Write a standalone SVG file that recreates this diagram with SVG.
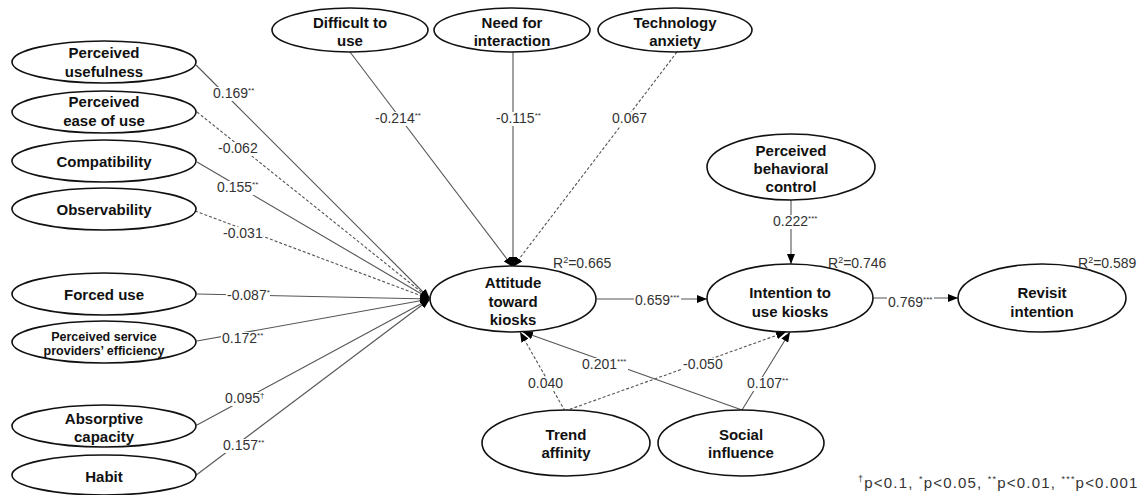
<svg xmlns="http://www.w3.org/2000/svg" width="1146" height="495" viewBox="0 0 1146 495">
<style>
.n ellipse{fill:#fff;stroke:#111;stroke-width:1.6}
.n text{font-family:"Liberation Sans",Arial,sans-serif;font-weight:bold;font-size:15px;fill:#111;text-anchor:middle}
.n text.sm{font-size:12.5px}
.c line{stroke:#555;stroke-width:1.1;fill:none}
.c line.d{stroke-dasharray:3,2}
.lb rect{fill:#fff}
.lb text,.r2{font-family:"Liberation Sans",Arial,sans-serif;font-size:14px;fill:#333}
.lg{font-family:"Liberation Sans",Arial,sans-serif;font-size:15px;fill:#333;letter-spacing:1.2px}
.s{font-size:8px}
.lg .s{font-size:9px}
</style>
<defs>
<marker id="a" markerWidth="10" markerHeight="8" refX="10" refY="4" orient="auto" markerUnits="userSpaceOnUse"><path d="M0,0 L10,4 L0,8 z" fill="#000"/></marker>
</defs>
<rect width="1146" height="495" fill="#fff"/>
<g id="connectors" class="c">
<line x1="196" y1="65" x2="430" y2="299" marker-end="url(#a)"/>
<line class="d" x1="197" y1="112" x2="430" y2="299" marker-end="url(#a)"/>
<line x1="197" y1="162" x2="430" y2="299" marker-end="url(#a)"/>
<line class="d" x1="195" y1="211" x2="430" y2="299" marker-end="url(#a)"/>
<line x1="197" y1="294" x2="430" y2="299" marker-end="url(#a)"/>
<line x1="197" y1="341" x2="430" y2="299" marker-end="url(#a)"/>
<line x1="197" y1="425" x2="430" y2="299" marker-end="url(#a)"/>
<line x1="195" y1="476" x2="430" y2="299" marker-end="url(#a)"/>
<line x1="350" y1="52" x2="513" y2="267" marker-end="url(#a)"/>
<line x1="513" y1="52" x2="513" y2="267" marker-end="url(#a)"/>
<line class="d" x1="677" y1="52" x2="513" y2="267" marker-end="url(#a)"/>
<line x1="597" y1="299" x2="707" y2="299" marker-end="url(#a)"/>
<line x1="873" y1="298" x2="958" y2="298" marker-end="url(#a)"/>
<line x1="791" y1="200" x2="791" y2="264" marker-end="url(#a)"/>
<line class="d" x1="565" y1="411" x2="520" y2="332" marker-end="url(#a)"/>
<line class="d" x1="565" y1="411" x2="786" y2="332" marker-end="url(#a)"/>
<line x1="742" y1="410" x2="523" y2="332" marker-end="url(#a)"/>
<line x1="742" y1="410" x2="790" y2="332" marker-end="url(#a)"/>
<g class="lb">
<rect x="212" y="87" width="43" height="14"/><text x="213" y="98">0.169<tspan class="s" dy="-5">**</tspan></text>
<rect x="217" y="142" width="41" height="14"/><text x="218" y="153">-0.062</text>
<rect x="216" y="181" width="43" height="14"/><text x="217" y="192">0.155<tspan class="s" dy="-5">**</tspan></text>
<rect x="222" y="227" width="41" height="14"/><text x="223" y="238">-0.031</text>
<rect x="226" y="289" width="44" height="14"/><text x="227" y="300">-0.087<tspan class="s" dy="-5">*</tspan></text>
<rect x="221" y="332" width="43" height="14"/><text x="222" y="343">0.172<tspan class="s" dy="-5">**</tspan></text>
<rect x="224" y="392" width="41" height="14"/><text x="225" y="403">0.095<tspan class="s" dy="-5">†</tspan></text>
<rect x="222" y="439" width="43" height="14"/><text x="223" y="450">0.157<tspan class="s" dy="-5">**</tspan></text>
<rect x="374" y="112" width="48" height="14"/><text x="375" y="123">-0.214<tspan class="s" dy="-5">**</tspan></text>
<rect x="495" y="112" width="48" height="14"/><text x="496" y="123">-0.115<tspan class="s" dy="-5">**</tspan></text>
<rect x="611" y="112" width="37" height="14"/><text x="612" y="123">0.067</text>
<rect x="634" y="294" width="47" height="14"/><text x="635" y="305">0.659<tspan class="s" dy="-5">***</tspan></text>
<rect x="887" y="296" width="47" height="14"/><text x="888" y="307">0.769<tspan class="s" dy="-5">***</tspan></text>
<rect x="772" y="215" width="47" height="14"/><text x="773" y="226">0.222<tspan class="s" dy="-5">***</tspan></text>
<rect x="527" y="377" width="37" height="14"/><text x="528" y="388">0.040</text>
<rect x="682" y="358" width="41" height="14"/><text x="683" y="369">-0.050</text>
<rect x="581" y="358" width="47" height="14"/><text x="582" y="369">0.201<tspan class="s" dy="-5">***</tspan></text>
<rect x="746" y="377" width="43" height="14"/><text x="747" y="388">0.107<tspan class="s" dy="-5">**</tspan></text>
</g>
</g>
<g id="n-pu" class="n"><ellipse cx="104" cy="62" rx="92" ry="21"/><text x="104" y="58">Perceived</text><text x="104" y="77">usefulness</text></g>
<g id="n-peou" class="n"><ellipse cx="104" cy="112" rx="92" ry="21"/><text x="104" y="107">Perceived</text><text x="104" y="126">ease of use</text></g>
<g id="n-comp" class="n"><ellipse cx="104" cy="161" rx="92" ry="21"/><text x="104" y="167">Compatibility</text></g>
<g id="n-obs" class="n"><ellipse cx="104" cy="209" rx="92" ry="21"/><text x="104" y="215">Observability</text></g>
<g id="n-forced" class="n"><ellipse cx="104" cy="294" rx="92" ry="21"/><text x="104" y="300">Forced use</text></g>
<g id="n-pspe" class="n"><ellipse cx="104" cy="342" rx="92" ry="21"/><text class="sm" x="104" y="341">Perceived service</text><text class="sm" x="104" y="355">providers’ efficiency</text></g>
<g id="n-abs" class="n"><ellipse cx="104" cy="426" rx="92" ry="21"/><text x="104" y="424">Absorptive</text><text x="104" y="442">capacity</text></g>
<g id="n-habit" class="n"><ellipse cx="104" cy="475" rx="92" ry="20"/><text x="104" y="482">Habit</text></g>
<g id="n-diff" class="n"><ellipse cx="350" cy="30" rx="78" ry="22"/><text x="350" y="28">Difficult to</text><text x="350" y="46">use</text></g>
<g id="n-need" class="n"><ellipse cx="512" cy="30" rx="78" ry="22"/><text x="512" y="28">Need for</text><text x="512" y="46">interaction</text></g>
<g id="n-tech" class="n"><ellipse cx="675" cy="30" rx="77" ry="22"/><text x="675" y="28">Technology</text><text x="675" y="46">anxiety</text></g>
<g id="n-pbc" class="n"><ellipse cx="791" cy="167" rx="84" ry="33"/><text x="791" y="156">Perceived</text><text x="791" y="174">behavioral</text><text x="791" y="192">control</text></g>
<g id="n-att" class="n"><ellipse cx="513" cy="299" rx="83" ry="33"/><text x="513" y="288">Attitude</text><text x="513" y="307">toward</text><text x="513" y="325">kiosks</text></g>
<g id="n-int" class="n"><ellipse cx="790" cy="298" rx="83" ry="34"/><text x="790" y="298">Intention to</text><text x="790" y="317">use kiosks</text></g>
<g id="n-rev" class="n"><ellipse cx="1042" cy="298" rx="84" ry="34"/><text x="1042" y="298">Revisit</text><text x="1042" y="317">intention</text></g>
<g id="n-trend" class="n"><ellipse cx="566" cy="443" rx="84" ry="33"/><text x="566" y="440">Trend</text><text x="566" y="458">affinity</text></g>
<g id="n-social" class="n"><ellipse cx="741" cy="443" rx="83" ry="33"/><text x="741" y="440">Social</text><text x="741" y="458">influence</text></g>
<text class="r2" x="553" y="268">R<tspan style="font-size:9px" dy="-5">2</tspan><tspan dy="5">=0.665</tspan></text>
<text class="r2" x="828" y="268">R<tspan style="font-size:9px" dy="-5">2</tspan><tspan dy="5">=0.746</tspan></text>
<text class="r2" x="1078" y="268">R<tspan style="font-size:9px" dy="-5">2</tspan><tspan dy="5">=0.589</tspan></text>
<text class="lg" x="858" y="488"><tspan class="s" dy="-6">†</tspan><tspan dy="6">p&lt;0.1, </tspan><tspan class="s" dy="-6">*</tspan><tspan dy="6">p&lt;0.05, </tspan><tspan class="s" dy="-6">**</tspan><tspan dy="6">p&lt;0.01, </tspan><tspan class="s" dy="-6">***</tspan><tspan dy="6">p&lt;0.001</tspan></text>
</svg>
